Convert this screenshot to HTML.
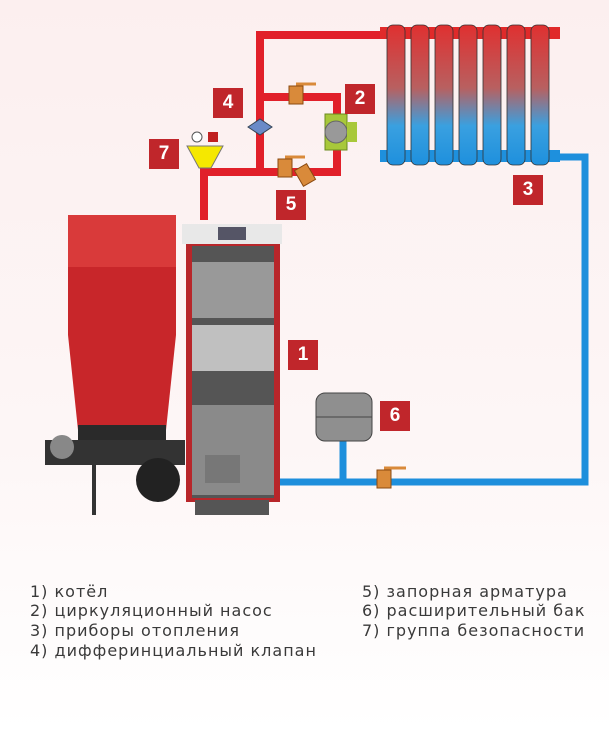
<!DOCTYPE html>
<html><head><meta charset="utf-8"><style>
body{margin:0;width:609px;height:731px;overflow:hidden;background:linear-gradient(#fcefef,#fdf6f6 60%,#fff);font-family:"Liberation Sans",sans-serif}
.l{position:absolute;font-family:"DejaVu Sans",sans-serif;font-size:16px;color:#3a3a3a;letter-spacing:1px}
.b{position:absolute;width:30px;height:30px;background:#c0262b;color:#fff;font:bold 19px/30px "Liberation Sans",sans-serif;text-align:center}
</style></head><body>
<svg width="609" height="731" style="position:absolute;left:0;top:0">
<defs>
<linearGradient id="rg" x1="0" y1="0" x2="0" y2="1"><stop offset="0" stop-color="#e03030"/><stop offset=".45" stop-color="#b86060"/><stop offset=".72" stop-color="#3aa0e0"/><stop offset="1" stop-color="#1e90dd"/></linearGradient>
</defs>
<g fill="none" stroke-linejoin="miter">
<path d="M204 220V172H337V97H260V35H390" stroke="#e1202a" stroke-width="8"/>
<path d="M260 97V172" stroke="#e1202a" stroke-width="8"/>
<path d="M555 157H585V482H280" stroke="#1e8fdc" stroke-width="7"/>
<path d="M343 440V482" stroke="#1e8fdc" stroke-width="7"/>
</g>
<rect x="380" y="27" width="180" height="12" fill="#e02a2a"/>
<rect x="380" y="150" width="180" height="12" fill="#1e90dd"/>
<g fill="url(#rg)" stroke="#333" stroke-width=".8">
<rect x="387" y="25" width="18" height="140" rx="6"/><rect x="411" y="25" width="18" height="140" rx="6"/><rect x="435" y="25" width="18" height="140" rx="6"/><rect x="459" y="25" width="18" height="140" rx="6"/><rect x="483" y="25" width="18" height="140" rx="6"/><rect x="507" y="25" width="18" height="140" rx="6"/><rect x="531" y="25" width="18" height="140" rx="6"/>
</g>
<rect x="325" y="114" width="22" height="36" fill="#a8c83a" stroke="#6a8a20"/><circle cx="336" cy="132" r="11" fill="#999" stroke="#666"/><rect x="347" y="122" width="10" height="20" fill="#a8c83a"/>
<path d="M248 127l12-8 12 8-12 8z" fill="#6a8ac8" stroke="#345"/>
<rect x="289" y="86" width="14" height="18" fill="#d98a3a" stroke="#8a4a10"/><path d="M296 84h20" stroke="#d98a3a" stroke-width="3"/>
<rect x="278" y="159" width="14" height="18" fill="#d98a3a" stroke="#8a4a10"/><path d="M285 157h20" stroke="#d98a3a" stroke-width="3"/>
<rect x="298" y="166" width="14" height="18" fill="#d98a3a" stroke="#8a4a10" transform="rotate(-30 305 175)"/>
<rect x="377" y="470" width="14" height="18" fill="#d98a3a" stroke="#8a4a10"/><path d="M384 468h22" stroke="#d98a3a" stroke-width="3"/>
<path d="M187 146h36l-12 22h-12z" fill="#f5e800" stroke="#777"/><circle cx="197" cy="137" r="5" fill="#fff" stroke="#555"/><rect x="208" y="132" width="10" height="10" fill="#c02020"/>
<rect x="316" y="393" width="56" height="48" rx="9" fill="#8f8f8f" stroke="#444"/><path d="M316 417h56" stroke="#444"/>
<path d="M68 215h108v120l-10 95h-88l-10-95z" fill="#c8262a"/>
<rect x="68" y="215" width="108" height="52" fill="#d93a3a"/>
<rect x="78" y="425" width="88" height="30" fill="#2a2a2a"/>
<rect x="45" y="440" width="140" height="25" fill="#333"/>
<circle cx="62" cy="447" r="12" fill="#888"/><circle cx="158" cy="480" r="22" fill="#222"/>
<rect x="92" y="465" width="4" height="50" fill="#333"/>
<rect x="186" y="240" width="94" height="262" fill="#b8262a"/>
<rect x="182" y="224" width="100" height="20" fill="#e8e8e8"/><rect x="218" y="227" width="28" height="13" fill="#556"/>
<rect x="192" y="246" width="82" height="252" fill="#555"/>
<rect x="192" y="262" width="82" height="56" fill="#999"/>
<rect x="192" y="325" width="82" height="46" fill="#c0c0c0"/>
<rect x="192" y="405" width="82" height="90" fill="#8a8a8a"/>
<rect x="205" y="455" width="35" height="28" fill="#777"/>
<rect x="195" y="500" width="74" height="15" fill="#555"/>
</svg>
<div class="b" style="left:213px;top:88px">4</div>
<div class="b" style="left:345px;top:84px">2</div>
<div class="b" style="left:149px;top:139px">7</div>
<div class="b" style="left:276px;top:190px">5</div>
<div class="b" style="left:513px;top:175px">3</div>
<div class="b" style="left:288px;top:340px">1</div>
<div class="b" style="left:380px;top:401px">6</div>
<div class="l" style="left:30px;top:582px">1) котёл</div>
<div class="l" style="left:30px;top:601px">2) циркуляционный насос</div>
<div class="l" style="left:30px;top:621px">3) приборы отопления</div>
<div class="l" style="left:30px;top:641px">4) дифферинциальный клапан</div>
<div class="l" style="left:362px;top:582px">5) запорная арматура</div>
<div class="l" style="left:362px;top:601px">6) расширительный бак</div>
<div class="l" style="left:362px;top:621px">7) группа безопасности</div>
</body></html>
